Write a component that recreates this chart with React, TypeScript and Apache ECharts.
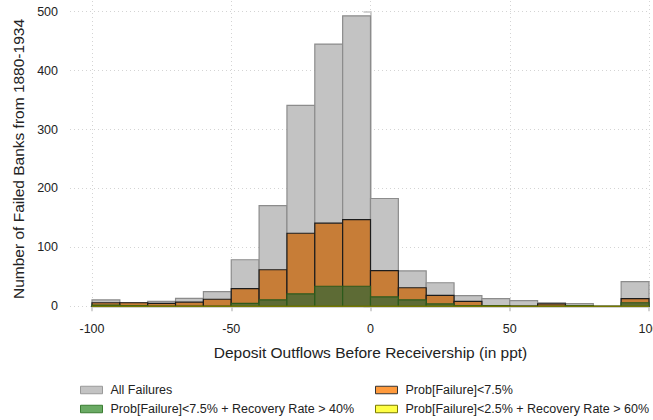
import React, { useEffect, useRef } from "react";
import * as echarts from "echarts";

const binStarts = [-100, -90, -80, -70, -60, -50, -40, -30, -20, -10, 0, 10, 20, 30, 40, 50, 60, 70, 80, 90];
const binWidth = 10;
const allFailures = [11, 6, 8.5, 13.5, 25, 79, 171, 341, 445, 493, 183, 60, 40, 18, 13, 9.5, 6, 4.5, 0, 42];
const probLow = [6, 6, 5, 7, 12, 30, 62, 124, 141, 147, 60.5, 31.5, 18.5, 8.5, 1, 0.5, 4, 0.5, 0, 13];
const probLowRecovery = [2, 1, 0, 0, 0, 5, 11, 21, 34, 34, 16, 11, 4, 1, 1, 0, 0, 1, 0, 6];
const probVeryLowRecovery = [0, 0, 0, 0, 0, 0, 0, 0, 0, 0, 0, 0, 0, 0, 0, 0, 0, 0, 0, 0];
const yTicks = [0, 100, 200, 300, 400, 500];
const xTicks = [-100, -50, 0, 50, 100];

const names = [
  "All Failures",
  "Prob[Failure]<7.5%",
  "Prob[Failure]<7.5% + Recovery Rate > 40%",
  "Prob[Failure]<2.5% + Recovery Rate > 60%",
];

function toData(vals: number[]) {
  return binStarts.map((b, i) => [b, b + binWidth, vals[i]]);
}

const renderBar = (params: any, api: any) => {
  const x0 = api.value(0);
  const x1 = api.value(1);
  const v = api.value(2);
  const p0 = api.coord([x0, v]);
  const p1 = api.coord([x1, 0]);
  return {
    type: "rect",
    shape: { x: p0[0], y: p0[1], width: p1[0] - p0[0], height: p1[1] - p0[1] },
    style: api.style(),
  };
};

export default function App() {
  const ref = useRef<HTMLDivElement>(null);
  useEffect(() => {
    if (!ref.current) return;
    const chart = echarts.init(ref.current, undefined, { renderer: "svg" });
    const font = "Liberation Sans, Arial, sans-serif";
    const mkSeries = (i: number, vals: number[], fill: string, stroke: string, lw: number) => ({
      type: "custom",
      name: names[i],
      xAxisIndex: 0,
      yAxisIndex: 0,
      renderItem: renderBar,
      encode: { x: [0, 1], y: 2 },
      data: toData(vals),
      itemStyle: { color: fill, borderColor: stroke, borderWidth: lw },
      z: 2 + i,
    });
    const legendStyles: any[] = [
      { color: "#c3c3c3", borderColor: "#9a9a9a", borderWidth: 1 },
      { color: "#ff9a3c", borderColor: "#333333", borderWidth: 1 },
      { color: "#6aaa64", borderColor: "#3a7d32", borderWidth: 1 },
      { color: "#ffff44", borderColor: "#7a7a00", borderWidth: 1 },
    ];
    const legendPos = [
      [80, 383],
      [375, 383],
      [80, 402],
      [375, 402],
    ];
    const gridLine = { show: true, lineStyle: { color: "#d4d4d4", type: [1, 3], width: 1 } };
    chart.setOption({
      animation: false,
      textStyle: { fontFamily: font },
      grid: [
        { left: 92, right: 4, top: 11.7, bottom: 113.7, containLabel: false, outerBoundsMode: "none" },
        { left: 70, right: 3, top: 11.7, bottom: 113.7, containLabel: false, outerBoundsMode: "none" },
        { left: 92, right: 4, top: 1, bottom: 111, containLabel: false, outerBoundsMode: "none" },
      ],
      xAxis: [
        {
          type: "value",
          gridIndex: 0,
          min: -100,
          max: 100,
          interval: 50,
          offset: 10.5,
          axisLine: { show: true, lineStyle: { color: "#c4c4c4", width: 1.5 } },
          axisTick: { show: true, length: 5, lineStyle: { color: "#c4c4c4", width: 1.5 } },
          axisLabel: {
            fontSize: 12.5,
            color: "#222",
            fontFamily: font,
            margin: 6,
            alignMinLabel: "center",
            alignMaxLabel: "center",
          },
          splitLine: { show: false },
          name: "Deposit Outflows Before Receivership (in ppt)",
          nameLocation: "middle",
          nameGap: 28,
          nameTextStyle: { fontSize: 15.5, color: "#222", fontFamily: font },
        },
        { type: "value", gridIndex: 1, min: 0, max: 1, show: false },
        {
          type: "value",
          gridIndex: 2,
          min: -100,
          max: 100,
          interval: 50,
          axisLine: { show: false },
          axisTick: { show: false },
          axisLabel: { show: false },
          splitLine: gridLine,
        },
      ],
      yAxis: [
        {
          type: "value",
          gridIndex: 0,
          min: 0,
          max: 500,
          interval: 100,
          offset: 25,
          axisLine: { show: true, lineStyle: { color: "#c4c4c4", width: 1.5 } },
          axisTick: { show: true, length: 7, lineStyle: { color: "#c4c4c4", width: 1.5 } },
          axisLabel: { fontSize: 12.5, color: "#222", fontFamily: font, margin: 9 },
          splitLine: { show: false },
          name: "Number of Failed Banks from 1880-1934",
          nameLocation: "middle",
          nameGap: 37,
          nameTextStyle: { fontSize: 15.5, color: "#222", fontFamily: font },
        },
        {
          type: "value",
          gridIndex: 1,
          min: 0,
          max: 500,
          interval: 100,
          axisLine: { show: false },
          axisTick: { show: false },
          axisLabel: { show: false },
          splitLine: gridLine,
        },
        { type: "value", gridIndex: 2, min: 0, max: 1, show: false },
      ],
      legend: names.map((n, i) => ({
        orient: "horizontal",
        left: legendPos[i][0],
        top: legendPos[i][1],
        itemWidth: 22,
        itemHeight: 7.5,
        icon: "rect",
        padding: 0,
        textStyle: { fontSize: 12.5, color: "#222", fontFamily: font, lineHeight: 14, padding: [0, 0, 0, 3] },
        data: [{ name: n, itemStyle: legendStyles[i] }],
      })),
      series: [
        mkSeries(0, allFailures, "#c3c3c3", "#8c8c8c", 1.2),
        mkSeries(1, probLow, "#c77d37", "#1c1c1c", 1.2),
        mkSeries(2, probLowRecovery, "#5d6b35", "#2c5a1c", 1.2),
        mkSeries(3, probVeryLowRecovery, "#d8d830", "#7a7a00", 1.0),
      ],
    });
    return () => chart.dispose();
  }, []);
  return <div ref={ref} style={{ width: 653, height: 420, position: "absolute", left: 0, top: 0 }} />;
}
